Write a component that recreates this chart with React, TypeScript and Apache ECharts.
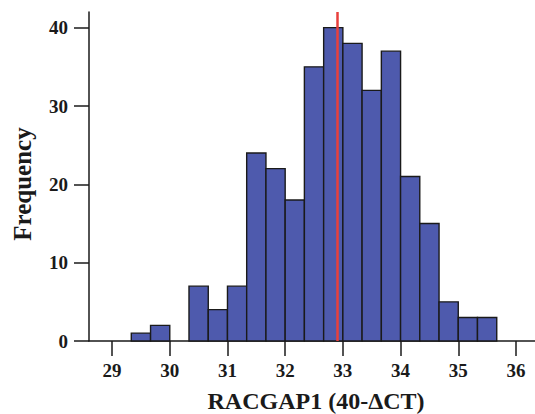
import React, { useEffect, useRef } from "react";
import * as echarts from "echarts";

const binStarts = [29.333, 29.667, 30.0, 30.333, 30.667, 31.0, 31.333, 31.667, 32.0, 32.333, 32.667, 33.0, 33.333, 33.667, 34.0, 34.333, 34.667, 35.0, 35.333];
const binEnds = [29.667, 30.0, 30.333, 30.667, 31.0, 31.333, 31.667, 32.0, 32.333, 32.667, 33.0, 33.333, 33.667, 34.0, 34.333, 34.667, 35.0, 35.333, 35.667];
const counts = [1, 2, 0, 7, 4, 7, 24, 22, 18, 35, 40, 38, 32, 37, 21, 15, 5, 3, 3];
const xTicks = [29, 30, 31, 32, 33, 34, 35, 36];
const yTicks = [0, 10, 20, 30, 40];
const meanValue = 32.91;
const xTitle = "RACGAP1 (40-\u0394CT)";
const yTitle = "Frequency";

const FONT = "'Liberation Serif', 'Times New Roman', serif";

export default function App() {
  const ref = useRef<HTMLDivElement>(null);
  useEffect(() => {
    document.body.style.margin = "0";
    if (!ref.current) return;
    const chart = echarts.init(ref.current, null, { renderer: "svg" });
    const data = binStarts.map((s, i) => [s, binEnds[i], counts[i]]);
    chart.setOption({
      animation: false,
      backgroundColor: "#ffffff",
      grid: { left: 89, right: 0, top: 12, bottom: 73 },
      xAxis: {
        type: "value",
        min: 28.6,
        max: 36.33,
        axisLine: { show: true, lineStyle: { color: "#1a1a1a", width: 1.5 } },
        axisTick: { show: true, customValues: xTicks, length: 15, lineStyle: { color: "#1a1a1a", width: 1.5 } },
        axisLabel: { customValues: xTicks, fontFamily: FONT, fontWeight: "bold", fontSize: 19, color: "#1a1a1a", margin: 20 },
        splitLine: { show: false },
      },
      yAxis: {
        type: "value",
        min: 0,
        max: 42,
        axisLine: { show: true, lineStyle: { color: "#1a1a1a", width: 1.5 } },
        axisTick: { show: true, customValues: yTicks, length: 15, lineStyle: { color: "#1a1a1a", width: 1.5 } },
        axisLabel: { customValues: yTicks, fontFamily: FONT, fontWeight: "bold", fontSize: 19, color: "#1a1a1a", margin: 21 },
        splitLine: { show: false },
      },
      graphic: [
        {
          type: "text",
          x: 22,
          y: 184,
          rotation: Math.PI / 2,
          style: { text: yTitle, fontFamily: FONT, fontWeight: "bold", fontSize: 25, fill: "#1a1a1a", align: "center", verticalAlign: "middle" },
        },
        {
          type: "text",
          x: 316,
          y: 401,
          style: { text: xTitle, fontFamily: FONT, fontWeight: "bold", fontSize: 24, fill: "#1a1a1a", align: "center", verticalAlign: "middle" },
        },
      ],
      series: [
        {
          type: "custom",
          data,
          encode: { x: [0, 1], y: 2 },
          renderItem: (params: any, api: any) => {
            const v = api.value(2);
            if (!v) return null;
            const p0 = api.coord([api.value(0), 0]);
            const p1 = api.coord([api.value(1), v]);
            return {
              type: "rect",
              shape: { x: p0[0], y: p1[1], width: p1[0] - p0[0], height: p0[1] - p1[1] },
              style: { fill: "#4e5aad", stroke: "#1a1a1a", lineWidth: 1.4 },
            };
          },
          markLine: {
            silent: true,
            symbol: "none",
            label: { show: false },
            lineStyle: { color: "#e8403c", width: 2.5, type: "solid" },
            data: [{ xAxis: meanValue }],
          },
          z: 2,
        },
      ],
    });
    return () => chart.dispose();
  }, []);
  return <div ref={ref} style={{ width: 535, height: 414 }} />;
}
